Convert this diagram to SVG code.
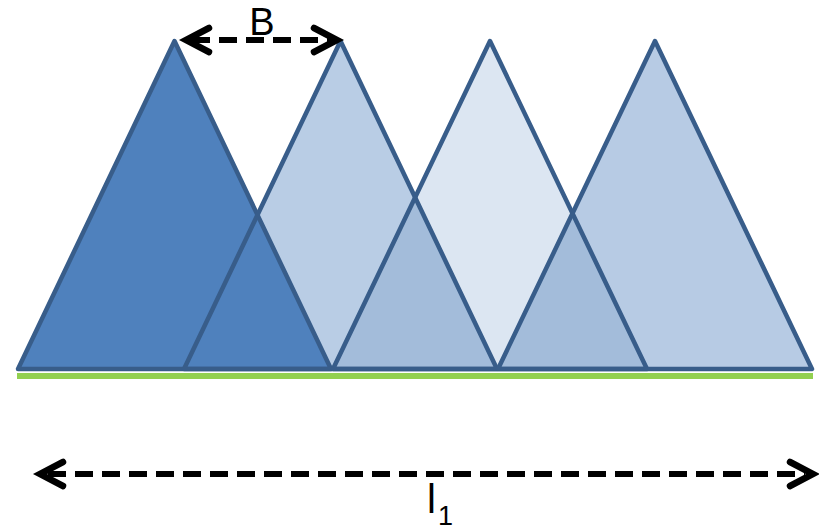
<svg xmlns="http://www.w3.org/2000/svg" width="819" height="530" viewBox="0 0 819 530">
<style>
.edge{fill:none;stroke:#385D8A;stroke-width:4.5;stroke-linejoin:round}
.dash{fill:none;stroke:#000;stroke-width:6;stroke-dasharray:18 9}
.head{fill:none;stroke:#000;stroke-width:6.5;stroke-linecap:round;stroke-linejoin:miter}
.lbl{font-family:"Liberation Sans",Arial,sans-serif;fill:#000}
</style>
<rect width="819" height="530" fill="#fff"/>
<line x1="17" y1="376" x2="813" y2="376" stroke="#92D050" stroke-width="6"/>
<g id="tri1"><polygon points="18,369 174.5,41 331,369" fill="#4F81BD"/></g>
<g id="tri2"><polygon points="184,369 340.5,41 497,369" fill="#B9CDE5"/></g>
<g id="tri3"><polygon points="333,369 490,41 647,369" fill="#DCE6F2"/></g>
<g id="tri4"><polygon points="498,369 655,41 812,369" fill="#B7CBE4"/></g>
<g id="overlaps">
<polygon points="184,369 257.5,215 331,369" fill="#4F81BD"/>
<polygon points="333,369 415,197 497,369" fill="#A3BCDA"/>
<polygon points="498,369 572.5,213.4 647,369" fill="#A3BCDA"/>
</g>
<g id="outlines">
<polygon class="edge" points="18,369 174.5,41 331,369"/>
<polygon class="edge" points="184,369 340.5,41 497,369"/>
<polygon class="edge" points="333,369 490,41 647,369"/>
<polygon class="edge" points="498,369 655,41 812,369"/>
</g>
<g id="connectors">
<line class="dash" x1="192" y1="40" x2="332" y2="40"/>
<polyline class="head" points="209,28 186,40 209,52"/>
<polyline class="head" points="314,28 337,40 314,52"/>
<line class="dash" x1="48" y1="474" x2="805" y2="474"/>
<polyline class="head" points="63,462 40,474 63,486"/>
<polyline class="head" points="790,462 813,474 790,486"/>
</g>
<text class="lbl" x="262" y="35" font-size="38" text-anchor="middle">B</text>
<text class="lbl" x="427" y="513" font-size="40">l</text>
<text class="lbl" x="438" y="525" font-size="27">1</text>
</svg>
